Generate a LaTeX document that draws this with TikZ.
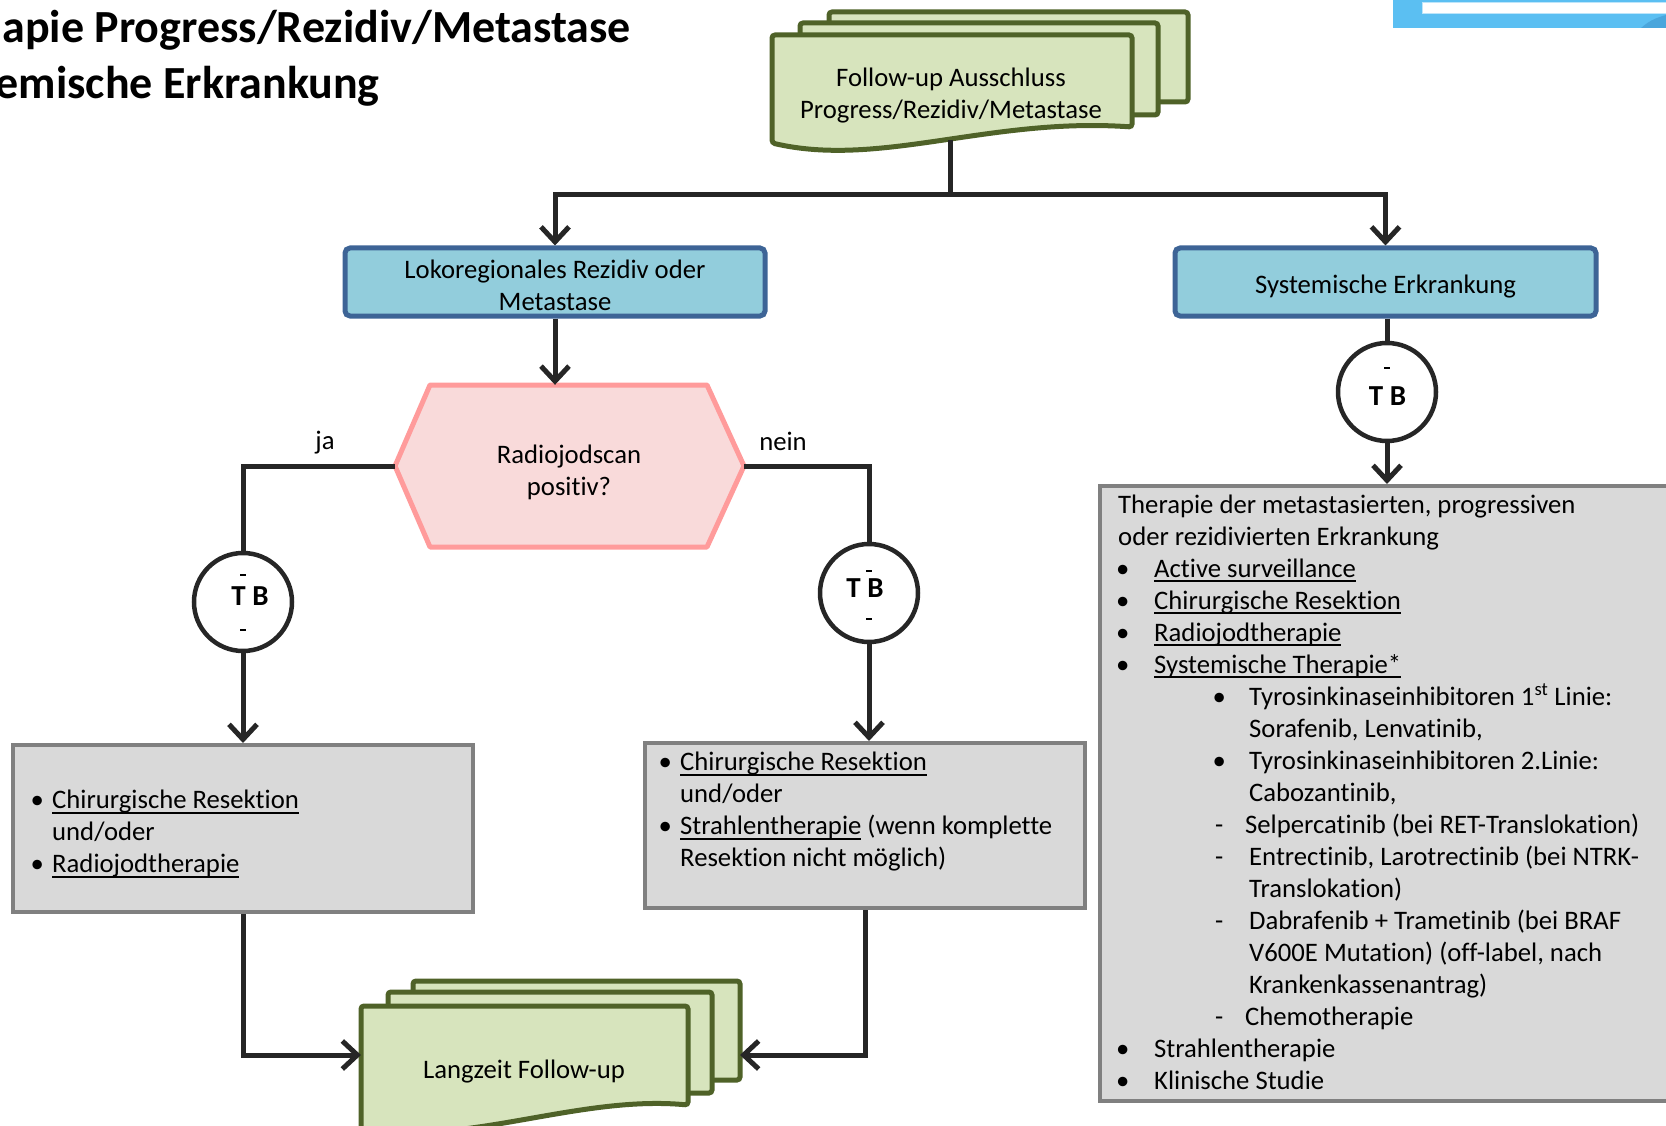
\documentclass[tikz,border=0pt]{standalone}
\usepackage{fontspec}
\setmainfont{Carlito}[Ligatures=NoCommon]
\usetikzlibrary{arrows.meta}
\definecolor{gfill}{HTML}{D7E4BD}
\definecolor{gline}{HTML}{4F6228}
\definecolor{bfill}{HTML}{92CDDC}
\definecolor{bline}{HTML}{3D6496}
\definecolor{pfill}{HTML}{F9DADA}
\definecolor{pline}{HTML}{FF9B9B}
\definecolor{grfill}{HTML}{D9D9D9}
\definecolor{grline}{HTML}{808080}
\definecolor{conn}{HTML}{262626}
\definecolor{topblue}{HTML}{5BBFF2}
\definecolor{topdark}{HTML}{4AA6DC}
\newsavebox\ulbox
\newcommand\myul[1]{\sbox\ulbox{#1}\rlap{\rule[-5pt]{\wd\ulbox}{1.6pt}}\usebox\ulbox}
\begin{document}
\begin{tikzpicture}[x=1pt,y=-1pt,
  every node/.style={font=\fontsize{26.7}{32}\selectfont, text=black},
  conline/.style={draw=conn, line width=5pt},
  arr/.style={conline, -{Straight Barb[length=15pt,width=28pt]}},
  docshape/.style={fill=gfill, draw=gline, line width=5pt, rounded corners=3pt},
  bluebox/.style={fill=bfill, draw=bline, line width=5pt, rounded corners=5pt, minimum width=420pt, minimum height=68pt, inner sep=0pt, align=center},
  greybox/.style={fill=grfill, draw=grline, line width=4pt, inner sep=0pt},
  tbcircle/.style={circle, draw=conn, line width=4.5pt, fill=white, minimum size=98pt, inner sep=0pt},
  tbtext/.style={font=\fontsize{29}{32}\selectfont\bfseries, inner sep=0pt},
  tbdash/.style={draw=black, line width=2.5pt},
  lbl/.style={inner sep=0pt}
]
\useasboundingbox (0,0) rectangle (1666,1126);
\clip (0,0) rectangle (1666,1126);

% title
\node[anchor=base east, inner sep=0pt, font=\fontsize{46}{56}\selectfont\bfseries] (title1) at (631,43) {apie Progress/Rezidiv/Metastase};
\node[anchor=base east, inner sep=0pt, font=\fontsize{46}{56}\selectfont\bfseries] (title2) at (380,99) {emische Erkrankung};

% top right decoration
\fill[topblue] (1393,0) rectangle (1680,28);
\draw[fill=white, draw=topblue!40, line width=1pt] (1422,3) rectangle (1680,14);
\fill[topdark] (1641,28) .. controls (1650,20) and (1658,16) .. (1680,12) -- (1680,28) -- cycle;

% top document stack
\draw[docshape] (829,12) rectangle (1188,102);
\draw[docshape] (800,23) rectangle (1158,115);
\draw[docshape] (772,35) -- (1132,35) -- (1132,127) .. controls (990,117) and (880,168) .. (772,143) -- cycle;
\node[align=center, inner sep=0pt] (fu) at (951,96) {Follow-up Ausschluss\\Progress/Rezidiv/Metastase};
\coordinate (fub) at (950,140);
\coordinate (split) at (950,195);

% blue boxes
\node[bluebox] (lok) at (555,282) {};
\node[align=center, inner sep=0pt] (lokt) at (555,285) {Lokoregionales Rezidiv oder\\Metastase};
\node[bluebox, minimum width=421pt] (sys) at (1385.5,282) {};
\node[inner sep=0pt] (syst) at (1385.5,287) {Systemische Erkrankung};

% hexagon
\draw[fill=pfill, draw=pline, line width=5pt, line join=round] (430,385) -- (707,385) -- (744,466) -- (707,547) -- (430,547) -- (395,466) -- cycle;
\node[minimum width=349pt, minimum height=162pt, inner sep=0pt] (hex) at (569.5,466) {};
\node[align=center, inner sep=0pt] (hext) at (569,472) {Radiojodscan\\positiv?};
\node[lbl] (ja) at (325,443) {ja};
\node[lbl] (nein) at (783,441) {nein};

% T B circles
\node[tbcircle] (cL) at (243,602) {};
\node[tbcircle] (cM) at (869,593) {};
\node[tbcircle] (cR) at (1387,392) {};
\node[tbtext] (tL) at (250,596) {T B};
\node[tbtext] (tM) at (865,588) {T B};
\node[tbtext] (tR) at (1387.5,396) {T B};
\draw[tbdash] (240,575) -- (246,575);
\draw[tbdash] (240,630) -- (246,630);
\draw[tbdash] (866,571) -- (872,571);
\draw[tbdash] (866,619) -- (872,619);
\draw[tbdash] (1384,368) -- (1390,368);

% grey boxes
\node[greybox, minimum width=460pt, minimum height=167pt] (gL) at (243,828.5) {};
\node[greybox, minimum width=440pt, minimum height=165pt] (gM) at (865,825.5) {};
\node[greybox, minimum width=600pt, minimum height=615pt] (gR) at (1400,793.5) {};

\node[anchor=base west, inner sep=0pt] (gLt) at (30.5,808.5) {\begin{tabular}[t]{@{}l@{}}
\makebox[21.5pt][l]{•}\myul{Chirurgische Resektion}\\
\hspace*{21.5pt}und/oder\\
\makebox[21.5pt][l]{•}\myul{Radiojodtherapie}
\end{tabular}};

\node[anchor=base west, inner sep=0pt] (gMt) at (658.5,770.5) {\begin{tabular}[t]{@{}l@{}}
\makebox[21.5pt][l]{•}\myul{Chirurgische Resektion}\\
\hspace*{21.5pt}und/oder\\
\makebox[21.5pt][l]{•}\myul{Strahlentherapie} (wenn komplette\\
\hspace*{21.5pt}Resektion nicht möglich)
\end{tabular}};

\node[anchor=base west, inner sep=0pt] (gRt) at (1116,513) {\begin{tabular}[t]{@{}l@{}}
\hspace*{2pt}Therapie der metastasierten, progressiven\\
\hspace*{2pt}oder rezidivierten Erkrankung\\
\makebox[38pt][l]{•}\myul{Active surveillance}\\
\makebox[38pt][l]{•}\myul{Chirurgische Resektion}\\
\makebox[38pt][l]{•}\myul{Radiojodtherapie}\\
\makebox[38pt][l]{•}\myul{Systemische Therapie*}\\
\hspace*{96.5pt}\makebox[36.5pt][l]{•}Tyrosinkinaseinhibitoren 1\textsuperscript{st} Linie:\\
\hspace*{133pt}Sorafenib, Lenvatinib,\\
\hspace*{96.5pt}\makebox[36.5pt][l]{•}Tyrosinkinaseinhibitoren 2.Linie:\\
\hspace*{133pt}Cabozantinib,\\
\hspace*{99pt}\makebox[30pt][l]{-}Selpercatinib (bei RET-Translokation)\\
\hspace*{99pt}\makebox[34pt][l]{-}Entrectinib, Larotrectinib (bei NTRK-\\
\hspace*{133pt}Translokation)\\
\hspace*{99pt}\makebox[34pt][l]{-}Dabrafenib + Trametinib (bei BRAF\\
\hspace*{133pt}V600E Mutation) (off-label, nach\\
\hspace*{133pt}Krankenkassenantrag)\\
\hspace*{99pt}\makebox[30pt][l]{-}Chemotherapie\\
\makebox[38pt][l]{•}Strahlentherapie\\
\makebox[38pt][l]{•}Klinische Studie
\end{tabular}};

% bottom document stack
\draw[docshape] (413,981) rectangle (740,1080);
\draw[docshape] (388,992) rectangle (712,1093);
\draw[docshape] (361,1006) -- (688,1006) -- (688,1105) .. controls (580,1095) and (470,1145) .. (361,1130) -- cycle;
\node[inner sep=0pt] (lz) at (524,1072) {Langzeit Follow-up};
\coordinate (lzw) at (361,1055);
\coordinate (lze) at (740,1055);

% connectors
\draw[conline] (fub) -- (split);
\draw[arr] (split) -| (lok.north);
\draw[arr] (split) -| (sys.north);
\draw[arr] (lok.south) -- (lok.south |- hex.north);
\draw[conline] (hex.west) -| (cL.north);
\draw[conline] (hex.east) -| (cM.north);
\draw[arr] (cL.south) -- (gL.north);
\draw[arr] (cM.south) -- (cM.south |- gM.north);
\draw[conline] (cR.north |- sys.south) -- (cR.north);
\draw[arr] (cR.south) -- (cR.south |- gR.north);
\draw[arr] (gL.south) |- (lzw);
\draw[arr] (gM.south) |- (lze);
\end{tikzpicture}
\end{document}
